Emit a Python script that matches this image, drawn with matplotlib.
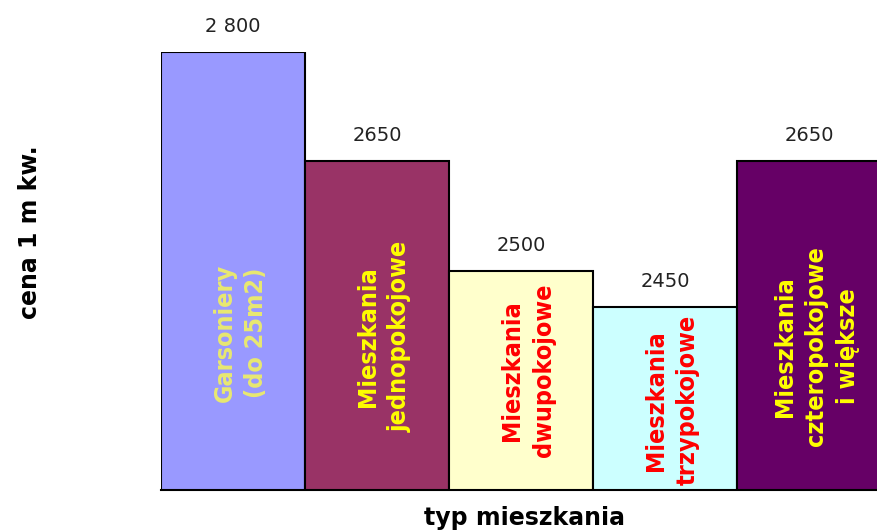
import numpy as np
import matplotlib.pyplot as plt

# price per square metre by flat type
kategorie = ['Garsoniery\n(do 25m2)', 'Mieszkania\njednopokojowe', 'Mieszkania\ndwupokojowe',
             'Mieszkania\ntrzypokojowe', 'Mieszkania\nczteropokojowe\ni większe']
ceny = [2800, 2650, 2500, 2450, 2650]
etykiety = ['2 800', '2650', '2500', '2450', '2650']
kolory = ['#9999FF', '#993366', '#FFFFCC', '#CCFFFF', '#660066']
kolory_tekstu = ['#E8E870', '#FFFF00', '#FF0000', '#FF0000', '#FFFF00']
srodki_tekstu = [2415, 2410, 2364, 2323, 2397]

fig = plt.figure(figsize=(8.77, 5.32), dpi=100)
ax = fig.add_axes([161/877, 42/532, 720/877, 438/532])

x = np.arange(len(ceny))
ax.bar(x, ceny, width=1.0, color=kolory, edgecolor='black', linewidth=1.5, bottom=0)
ax.set_xlim(-0.5, 4.5)
ax.set_ylim(2200, 2800)

for i in range(len(ceny)):
    ax.text(x[i], ceny[i] + 35, etykiety[i], ha='center', va='center', fontsize=14,
            color='#222222', clip_on=False)
    ax.text(x[i] + 0.05, srodki_tekstu[i], kategorie[i], ha='center', va='center', rotation=90,
            fontsize=18, fontweight='bold', fontstretch='condensed', color=kolory_tekstu[i],
            linespacing=1.4, family='DejaVu Sans')

for s in ['top', 'right', 'left']:
    ax.spines[s].set_visible(False)
ax.spines['bottom'].set_linewidth(1.5)
ax.set_xticks([])
ax.set_yticks([])

fig.text(524/877, 1 - 518/532, 'typ mieszkania', ha='center', va='center',
         fontsize=17, fontweight='bold')
fig.text(30/877, 1 - 232/532, 'cena 1 m kw.', ha='center', va='center', rotation=90,
         fontsize=17, fontweight='bold')

fig.savefig('out.png', dpi=100)
